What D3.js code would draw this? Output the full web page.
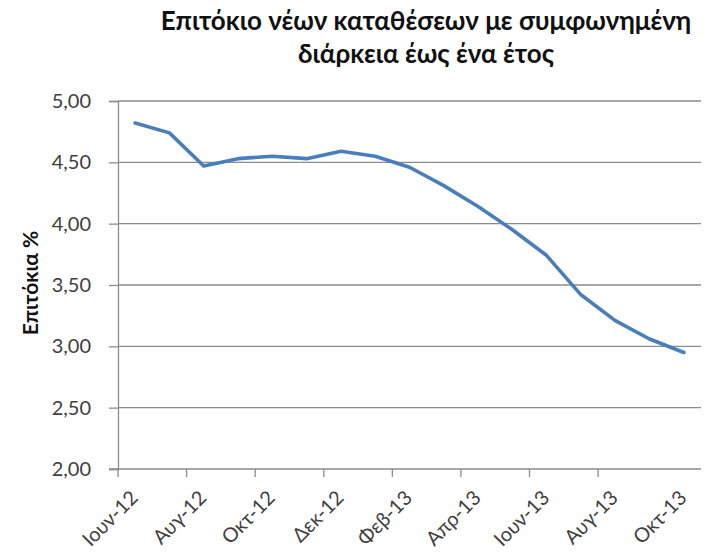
<!DOCTYPE html>
<html>
<head>
<meta charset="utf-8">
<script src="https://cdn.jsdelivr.net/npm/d3@7"></script>
<style>
  html, body { margin: 0; padding: 0; background: #fff; }
  svg { display: block; }
</style>
</head>
<body>
<svg id="chart" width="704" height="554"></svg>
<script>
// Monthly rate on new deposits with agreed maturity up to one year (%)
const months = ["Ιουν-12","Ιουλ-12","Αυγ-12","Σεπ-12","Οκτ-12","Νοε-12","Δεκ-12","Ιαν-13",
                "Φεβ-13","Μαρ-13","Απρ-13","Μαϊ-13","Ιουν-13","Ιουλ-13","Αυγ-13","Σεπ-13","Οκτ-13"];
const rates = [4.82, 4.74, 4.47, 4.53, 4.55, 4.53, 4.59, 4.55,
               4.46, 4.31, 4.14, 3.95, 3.74, 3.42, 3.21, 3.06, 2.95];
const yTicks = [2.0, 2.5, 3.0, 3.5, 4.0, 4.5, 5.0];
const titleLines = ["Επιτόκιο νέων καταθέσεων με συμφωνημένη", "διάρκεια έως ένα έτος"];
const yTitle = "Επιτόκια %";

const svg = d3.select("#chart");
const font = "Lato, 'Open Sans', sans-serif";
const plotL = 118, plotR = 701, plotT = 101, plotB = 469;

const x = d3.scaleBand().domain(months).range([plotL, plotR]).padding(0);
const y = d3.scaleLinear().domain([2, 5]).range([plotB, plotT]);
const fmt = v => d3.format(".2f")(v).replace(".", ",");

// horizontal gridlines
svg.append("g").selectAll("line").data(yTicks.filter(v => v > 2)).join("line")
  .attr("x1", plotL).attr("x2", plotR)
  .attr("y1", d => y(d)).attr("y2", d => y(d))
  .attr("stroke", "#8c8c8c").attr("stroke-width", 1.3);

// y axis
const yAxis = svg.append("g").attr("transform", `translate(${plotL},0)`)
  .call(d3.axisLeft(y).tickValues(yTicks).tickFormat(fmt).tickSize(9).tickPadding(18));
yAxis.select(".domain").attr("stroke", "#8c8c8c").attr("stroke-width", 1.3);
yAxis.selectAll(".tick line").attr("stroke", "#8c8c8c").attr("stroke-width", 1.3);
yAxis.selectAll(".tick text").attr("font-family", font).attr("font-size", 20)
  .attr("fill", "#404040");

// x axis: ticks on every second category boundary, labels under every second category
const tickMonths = months.filter((d, i) => i % 2 === 0 && i < months.length - 1);
const xg = svg.append("g");
xg.append("line").attr("x1", plotL - 9).attr("x2", plotR)
  .attr("y1", plotB).attr("y2", plotB)
  .attr("stroke", "#8c8c8c").attr("stroke-width", 1.3);
xg.selectAll("line.tk").data(tickMonths).join("line").attr("class", "tk")
  .attr("x1", d => x(d)).attr("x2", d => x(d))
  .attr("y1", plotB).attr("y2", plotB + 8)
  .attr("stroke", "#8c8c8c").attr("stroke-width", 1.3);
xg.selectAll("text").data(months.filter((d, i) => i % 2 === 0)).join("text")
  .attr("transform", d => `translate(${x(d) + x.bandwidth() / 2 + 4},${plotB + 30}) rotate(-45)`)
  .attr("text-anchor", "end")
  .attr("font-family", font).attr("font-size", 20).attr("fill", "#404040")
  .text(d => d);

// series line
const line = d3.line()
  .x((d, i) => x(months[i]) + x.bandwidth() / 2)
  .y(d => y(d));
svg.append("path").datum(rates)
  .attr("d", line)
  .attr("fill", "none").attr("stroke", "#4a7ebb").attr("stroke-width", 3.6)
  .attr("stroke-linejoin", "round").attr("stroke-linecap", "round");

// y axis title
svg.append("text")
  .attr("transform", `translate(38,283) rotate(-90)`)
  .attr("text-anchor", "middle").attr("font-family", font).attr("font-weight", "bold")
  .attr("font-size", 21).attr("fill", "#111").text(yTitle);

// chart title
svg.append("g").selectAll("text").data(titleLines).join("text")
  .attr("x", 426).attr("y", (d, i) => 30 + i * 33)
  .attr("text-anchor", "middle").attr("font-family", font).attr("font-weight", "bold")
  .attr("font-size", 26).attr("fill", "#111").text(d => d);
</script>
</body>
</html>
